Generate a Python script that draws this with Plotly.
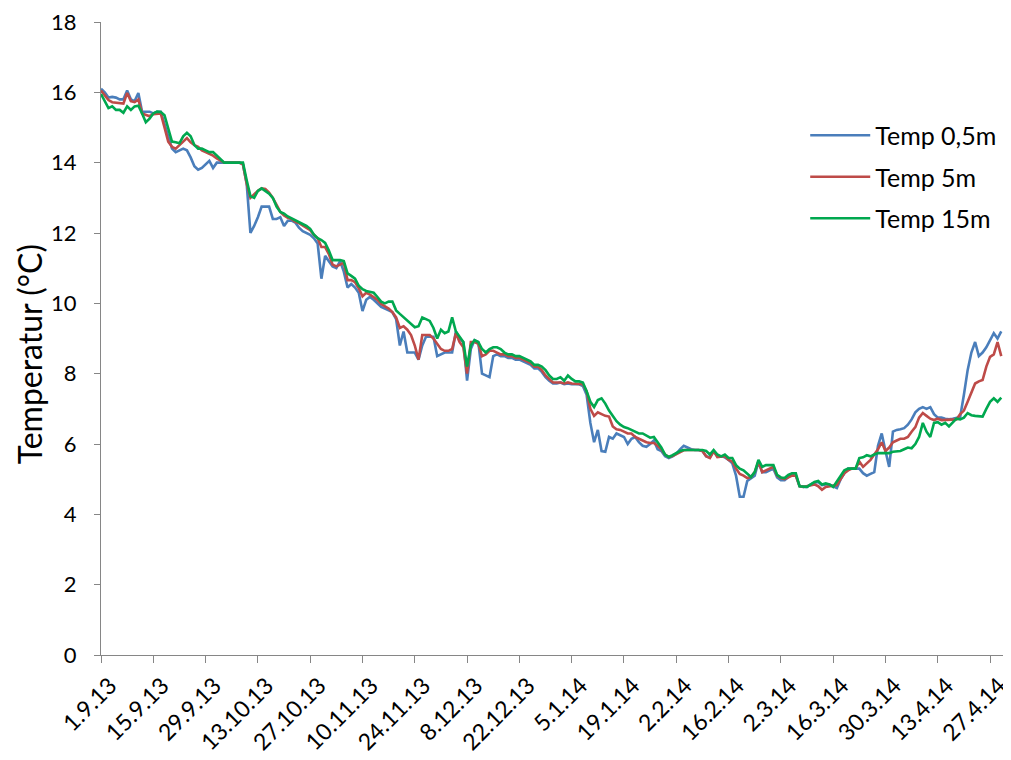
import pandas as pd
import plotly.graph_objects as go

start_date = "2013-09-01"

temp_05m = [
    16.1, 16.0, 15.85, 15.87, 15.85, 15.8, 15.8, 16.05, 15.8, 15.75,
    15.98, 15.45, 15.45, 15.45, 15.4, 15.45, 15.45, 15.1, 14.7, 14.4,
    14.3, 14.35, 14.4, 14.35, 14.15, 13.9, 13.8, 13.85, 13.95, 14.05,
    13.85, 14.0, 14.0, 14.0, 14.0, 14.0, 14.0, 14.0, 13.95, 13.4,
    12.0, 12.2, 12.45, 12.75, 12.75, 12.75, 12.4, 12.4, 12.45, 12.2,
    12.35, 12.35, 12.3, 12.15, 12.05, 12.0, 11.95, 11.85, 11.7, 10.7,
    11.35, 11.2, 11.05, 11.0, 11.2, 10.9, 10.45, 10.55, 10.45, 10.3,
    9.78, 10.1, 10.18, 10.1, 10.0, 9.9, 9.85, 9.8, 9.75, 9.55,
    8.8, 9.2, 8.6, 8.6, 8.6, 8.4, 8.8, 9.05, 9.05, 9.05,
    8.5, 8.55, 8.6, 8.6, 8.6, 9.2, 9.0, 8.9, 7.8, 8.7,
    8.95, 8.9, 8.0, 7.95, 7.9, 8.5, 8.55, 8.5, 8.5, 8.45,
    8.45, 8.4, 8.4, 8.35, 8.3, 8.25, 8.15, 8.15, 8.05, 7.9,
    7.8, 7.72, 7.72, 7.75, 7.7, 7.72, 7.7, 7.7, 7.7, 7.65,
    7.4, 6.6, 6.05, 6.4, 5.8, 5.78, 6.2, 6.15, 6.3, 6.25,
    6.2, 6.0, 6.15, 6.2, 6.05, 5.95, 5.92, 6.0, 6.1, 5.85,
    5.8, 5.65, 5.6, 5.65, 5.72, 5.85, 5.95, 5.9, 5.85, 5.83,
    5.83, 5.8, 5.65, 5.62, 5.8, 5.65, 5.65, 5.62, 5.55, 5.45,
    5.1, 4.5, 4.5, 4.95, 5.03, 5.1, 5.5, 5.2, 5.2, 5.25,
    5.3, 5.05, 4.97, 4.97, 5.05, 5.15, 5.1, 4.8, 4.78, 4.78,
    4.85, 4.9, 4.92, 4.83, 4.85, 4.85, 4.8, 4.75, 5.0, 5.17,
    5.3, 5.3, 5.3, 5.3, 5.17, 5.1, 5.15, 5.2, 5.95, 6.3,
    5.8, 5.35, 6.35, 6.4, 6.42, 6.45, 6.55, 6.7, 6.9, 7.0,
    7.05, 7.0, 7.05, 6.85, 6.75, 6.75, 6.72, 6.7, 6.72, 6.75,
    6.77, 7.4, 8.1, 8.6, 8.9, 8.5, 8.6, 8.75, 8.95, 9.15,
    9.0, 9.2,
]

temp_5m = [
    16.05, 15.9, 15.78, 15.72, 15.7, 15.7, 15.68, 15.98, 15.75, 15.72,
    15.8, 15.4, 15.35, 15.32, 15.38, 15.4, 15.4, 15.0, 14.6, 14.45,
    14.4, 14.5, 14.6, 14.7, 14.58, 14.5, 14.45, 14.35, 14.3, 14.25,
    14.2, 14.12, 14.05, 14.0, 14.0, 14.0, 14.0, 14.0, 13.95, 13.4,
    13.0, 13.1, 13.2, 13.27, 13.25, 13.15, 13.0, 12.8, 12.6, 12.5,
    12.43, 12.4, 12.32, 12.28, 12.22, 12.15, 12.08, 11.95, 11.85, 11.6,
    11.6, 11.4, 11.1, 11.05, 11.1, 11.15, 10.66, 10.66, 10.6, 10.43,
    10.2, 10.3, 10.25, 10.18, 10.1, 9.98, 9.92, 9.85, 9.75, 9.6,
    9.3, 9.35, 9.25, 9.1, 8.8, 8.4, 9.1, 9.1, 9.1, 9.0,
    8.85, 8.7, 8.65, 8.65, 8.7, 9.15, 8.9, 8.75, 8.0, 8.9,
    8.9, 8.85, 8.5, 8.55, 8.65, 8.65, 8.6, 8.55, 8.55, 8.5,
    8.5, 8.45, 8.45, 8.4, 8.35, 8.3, 8.2, 8.2, 8.1, 7.95,
    7.85, 7.75, 7.75, 7.75, 7.72, 7.75, 7.72, 7.72, 7.72, 7.7,
    7.5, 7.0, 6.8, 6.9, 6.85, 6.8, 6.78, 6.5, 6.42, 6.4,
    6.35, 6.3, 6.3, 6.2, 6.15, 6.1, 6.05, 6.03, 6.03, 5.95,
    5.85, 5.7, 5.63, 5.66, 5.72, 5.78, 5.82, 5.83, 5.83, 5.83,
    5.83, 5.8, 5.65, 5.6, 5.8, 5.63, 5.65, 5.65, 5.55, 5.5,
    5.3, 5.15, 5.1, 5.03, 5.06, 5.2, 5.5, 5.2, 5.25, 5.3,
    5.35, 5.1, 5.03, 5.0, 5.05, 5.1, 5.1, 4.8, 4.78, 4.8,
    4.83, 4.85, 4.8, 4.7, 4.78, 4.8, 4.8, 4.83, 5.0, 5.17,
    5.25, 5.3, 5.3, 5.5, 5.35, 5.45, 5.55, 5.7, 5.85, 6.05,
    5.8, 5.9, 6.05, 6.1, 6.15, 6.15, 6.2, 6.35, 6.48, 6.75,
    6.88, 6.8, 6.72, 6.68, 6.72, 6.68, 6.68, 6.68, 6.68, 6.7,
    6.85, 6.95, 7.2, 7.45, 7.72, 7.78, 7.82, 8.2, 8.48, 8.55,
    8.9, 8.5,
]

temp_15m = [
    15.95, 15.75, 15.55, 15.6, 15.5, 15.5, 15.42, 15.6, 15.5, 15.6,
    15.62, 15.4, 15.15, 15.25, 15.4, 15.45, 15.44, 15.35, 14.95, 14.6,
    14.58, 14.55, 14.75, 14.85, 14.75, 14.5, 14.4, 14.4, 14.35, 14.3,
    14.3, 14.2, 14.1, 14.0, 14.0, 14.0, 14.0, 14.0, 14.0, 13.5,
    13.05, 13.0, 13.2, 13.27, 13.2, 13.12, 13.0, 12.75, 12.6, 12.55,
    12.47, 12.42, 12.37, 12.3, 12.27, 12.2, 12.12, 11.95, 11.85, 11.8,
    11.72, 11.5, 11.23, 11.23, 11.23, 11.2, 10.85, 10.78, 10.7, 10.5,
    10.4, 10.35, 10.32, 10.3, 10.18, 10.05, 10.0, 10.05, 10.05, 9.8,
    9.7, 9.6, 9.5, 9.4, 9.32, 9.35, 9.6, 9.55, 9.5, 9.3,
    9.0, 9.25, 9.15, 9.2, 9.6, 9.2, 9.05, 8.9, 8.2, 8.8,
    8.95, 8.9, 8.7, 8.6, 8.7, 8.75, 8.75, 8.7, 8.6, 8.55,
    8.55, 8.5, 8.5, 8.45, 8.4, 8.35, 8.25, 8.25, 8.2, 8.1,
    7.95, 7.85, 7.85, 7.9, 7.8, 7.95, 7.85, 7.78, 7.78, 7.75,
    7.5, 7.2, 7.05, 7.25, 7.3, 7.15, 6.95, 6.8, 6.65, 6.55,
    6.48, 6.45, 6.4, 6.35, 6.3, 6.3, 6.25, 6.18, 6.2, 6.05,
    5.9, 5.7, 5.63, 5.68, 5.75, 5.8, 5.83, 5.83, 5.83, 5.83,
    5.83, 5.83, 5.8, 5.7, 5.83, 5.7, 5.65, 5.7, 5.6, 5.6,
    5.4, 5.3, 5.25, 5.15, 5.06, 5.2, 5.55, 5.35, 5.4, 5.4,
    5.4, 5.12, 5.05, 5.03, 5.12, 5.17, 5.17, 4.8, 4.78, 4.78,
    4.85, 4.92, 4.95, 4.85, 4.88, 4.85, 4.78, 4.95, 5.1, 5.25,
    5.3, 5.3, 5.3, 5.6, 5.62, 5.68, 5.65, 5.7, 5.74, 5.74,
    5.74, 5.74, 5.78, 5.8, 5.8, 5.85, 5.9, 5.88, 6.0, 6.2,
    6.6, 6.35, 6.2, 6.6, 6.62, 6.55, 6.6, 6.5, 6.6, 6.72,
    6.7, 6.75, 6.88, 6.82, 6.8, 6.78, 6.78, 7.0, 7.2, 7.3,
    7.2, 7.32,
]

series_names = ["Temp 0,5m", "Temp 5m", "Temp 15m"]

y_ticks = [0, 2, 4, 6, 8, 10, 12, 14, 16, 18]

tick_dates = ["2013-09-01", "2013-09-15", "2013-09-29", "2013-10-13", "2013-10-27",
              "2013-11-10", "2013-11-24", "2013-12-08", "2013-12-22", "2014-01-05",
              "2014-01-19", "2014-02-02", "2014-02-16", "2014-03-02", "2014-03-16",
              "2014-03-30", "2014-04-13", "2014-04-27"]
tick_labels = ["1.9.13", "15.9.13", "29.9.13", "13.10.13", "27.10.13", "10.11.13",
               "24.11.13", "8.12.13", "22.12.13", "5.1.14", "19.1.14", "2.2.14",
               "16.2.14", "2.3.14", "16.3.14", "30.3.14", "13.4.14", "27.4.14"]

dates = pd.date_range(start_date, periods=len(temp_05m), freq="D")

colors = ["#4a7ebb", "#be4b48", "#00a84f"]
FONT = "Lato"

fig = go.Figure()
for name, vals, col in zip(series_names, [temp_05m, temp_5m, temp_15m], colors):
    fig.add_trace(go.Scatter(x=dates, y=vals, mode="lines", name=name,
                             legendgroup=name, line=dict(color=col, width=2.6)))

axis_col = "#868686"
fig.update_layout(
    width=1003, height=752,
    margin=dict(l=93, r=6, t=14, b=105, autoexpand=False),
    paper_bgcolor="white", plot_bgcolor="white",
    font=dict(family=FONT, color="#000000"),
    showlegend=True,
    legend=dict(x=0.779, y=0.857, xanchor="left", yanchor="top",
                font=dict(size=25, family=FONT), itemwidth=60,
                bgcolor="rgba(0,0,0,0)", tracegroupgap=6),
    xaxis=dict(range=["2013-09-01", "2014-05-01"], tickmode="array",
               tickvals=tick_dates, ticktext=tick_labels, tickangle=-45,
               showgrid=False, zeroline=False, showline=True, linecolor=axis_col,
               linewidth=1.3, ticks="outside", ticklen=7, tickcolor=axis_col,
               tickfont=dict(size=23, family=FONT), ticklabelshift=9,
               ticklabeloverflow="allow", automargin=False),
    yaxis=dict(range=[0, 18], tickmode="array", tickvals=y_ticks,
               ticktext=[str(v) for v in y_ticks], showgrid=False, zeroline=False,
               showline=True, linecolor=axis_col, linewidth=1.3, ticks="outside",
               ticklen=6, tickcolor=axis_col, tickfont=dict(size=22, family=FONT),
               ticklabelstandoff=13, ticklabeloverflow="allow", automargin=False),
    annotations=[dict(text="Temperatur (°C)", xref="paper", yref="paper",
                      x=(21 - 93) / 904, y=0.475, textangle=-90, showarrow=False,
                      font=dict(size=32, family=FONT), xanchor="center", yanchor="middle")],
)

fig.write_html("out.html")
